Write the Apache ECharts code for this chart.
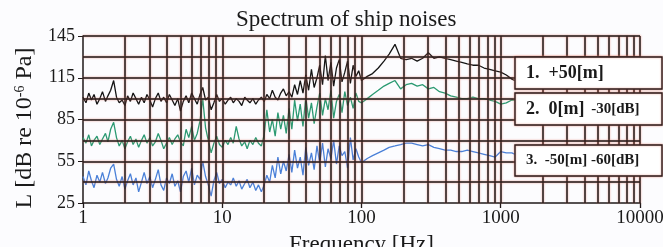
<!DOCTYPE html>
<html>
<head>
<meta charset="utf-8">
<script src="https://cdn.jsdelivr.net/npm/echarts@6/dist/echarts.min.js"></script>
<style>
  html, body { margin: 0; padding: 0; background: #fcfcfe; }
  #chart { width: 663px; height: 247px; }
</style>
</head>
<body>
<div id="chart"></div>
<script>
// frequency samples [Hz]
const freq = [
  1.00, 1.05, 1.10, 1.15, 1.20, 1.26, 1.32, 1.38, 1.45, 1.51, 1.58, 1.66, 1.74, 1.82, 1.91,
  2.00, 2.09, 2.19, 2.29, 2.40, 2.51, 2.63, 2.75, 2.88, 3.02, 3.16, 3.31, 3.47, 3.63, 3.80,
  3.98, 4.17, 4.37, 4.57, 4.79, 5.01, 5.25, 5.50, 5.75, 6.03, 6.31, 6.61, 6.92, 7.24, 7.59,
  7.94, 8.32, 8.71, 9.12, 9.55,
  10.0, 10.5, 11.0, 11.5, 12.0, 12.6, 13.2, 13.8, 14.5, 15.1, 15.8, 16.6, 17.4, 18.2, 19.1,
  20.0, 20.9, 21.9, 22.9, 24.0, 25.1, 26.3, 27.5, 28.8, 30.2, 31.6, 33.1, 34.7, 36.3, 38.0,
  39.8, 41.7, 43.7, 45.7, 47.9, 50.1, 52.5, 55.0, 57.5, 60.3, 63.1, 66.1, 69.2, 72.4, 75.9,
  79.4, 83.2, 87.1, 91.2, 95.5,
  100, 110, 120, 132, 145, 158, 174, 191, 209, 229, 251, 275, 302, 331, 363, 398, 437, 479,
  525, 575, 631, 692, 759, 832, 912, 1000, 1096, 1202, 1259
]

// 1. +50 m
const ship50 = [
  101, 97, 104, 99, 103, 96, 100, 105, 98, 102, 106, 113, 101, 97, 99,
  95, 102, 98, 104, 100, 96, 101, 97, 103, 99, 94, 100, 104, 98, 101,
  97, 103, 99, 95, 100, 91, 98, 102, 97, 104, 100, 96, 103, 108, 99,
  101, 92, 97, 103, 98,
  100, 96, 99, 101, 97, 100, 98, 95, 101, 99, 97, 100, 96, 99, 101,
  98, 103, 100, 106, 101, 99, 104, 107, 102, 105, 101, 110, 103, 113, 104,
  117, 106, 121, 108, 115, 124, 110, 131, 113, 126, 109, 122, 128, 112, 119,
  127, 111, 124, 116, 120,
  113, 116, 118, 122, 127, 132, 139, 129, 128, 129, 127, 129, 133, 129, 130, 129, 128, 127,
  126, 125, 124, 124, 122, 121, 120, 119, 117, 114, 113
]

// 2. 0 m, shifted -30 dB
const ship0 = [
  72, 68, 74, 66, 70, 73, 67, 71, 75, 69, 78, 83, 72, 66, 70,
  64, 69, 73, 67, 71, 65, 70, 74, 68, 72, 66, 69, 75, 70, 64,
  68, 72, 67, 71, 74, 69, 66, 78, 72, 80, 70, 75, 84, 100, 79,
  70, 61, 68, 73, 67,
  65, 70, 67, 72, 68, 80, 71, 66, 69, 64, 70, 67, 72, 68, 66,
  74, 92, 76, 85, 73, 90, 78, 88, 75, 93, 78, 99, 84, 96, 80,
  101, 86, 97, 82, 94, 104, 88, 100, 92, 106, 86, 98, 103, 90, 105,
  95, 101, 93, 104, 98,
  97, 100, 103, 106, 109, 111, 113, 107, 110, 111, 109, 110, 107, 108, 105, 104, 102, 101,
  100, 100, 101, 100, 100, 99, 98, 96, 97, 99, 99
]

// 3. -50 m, shifted -60 dB
const shipMinus50 = [
  44, 38, 48, 41, 36, 45, 40, 47, 39, 43, 50, 53, 42, 37, 44,
  35, 41, 46, 38, 43, 33, 40, 47, 39, 44, 36, 42, 49, 38, 34,
  43, 39, 46, 37, 41, 33, 44, 48, 40, 50, 38, 45, 42, 55, 44,
  38, 30, 41, 47, 39,
  42, 36, 40, 38, 43, 37, 41, 35, 39, 42, 36, 40, 34, 38, 33,
  38, 45, 40, 52, 43, 58, 46, 55, 48, 60, 47, 63, 50, 58, 45,
  65, 52, 61, 49, 66, 54, 68, 51, 64, 57, 70, 53, 66, 59, 62,
  50, 72, 56, 64, 58,
  54, 57, 59, 61, 63, 65, 66, 67, 68, 68, 67, 66, 67, 65, 64, 63, 63, 62,
  62, 63, 62, 61, 60, 59, 58, 62, 61, 61, 60
]

// grid lines
const gridFreqs = [
  2, 3, 4, 5, 6, 7, 8, 9, 10,
  20, 30, 40, 50, 60, 70, 80, 90, 100,
  200, 300, 400, 500, 600, 700, 800, 900, 1000,
  2000, 3000, 4000, 5000, 6000, 7000, 8000, 9000, 10000
]
const gridLevels = [40, 55, 70, 85, 100, 115, 130, 145]
const levelTicks = [25, 55, 85, 115, 145]

const legendRows = [
  '{b|1.  +50[m]}',
  '{b|2.  0[m]}  {s|-30[dB]}',
  '{s|3.  -50[m] -60[dB]}'
]

const serif = '"Liberation Serif", "DejaVu Serif", serif'
const pair = vals => freq.map((f, i) => [f, vals[i]])

const chart = echarts.init(document.getElementById('chart'))

const gridLine = {
  color: '#1f1818',
  width: 1.5,
  type: 'solid',
  shadowColor: 'rgba(225, 110, 90, 0.8)',
  shadowBlur: 2
}

const boxes = [[57, 32], [93, 32], [145, 31]]

const graphics = [
  // y axis title, placed a bit below the axis middle as in the original
  {
    type: 'text',
    x: 25,
    y: 128,
    rotation: Math.PI / 2,
    style: {
      text: '{n|L [dB re 10}{sup|-6}{n| Pa]}',
      align: 'center',
      verticalAlign: 'middle',
      rich: {
        n: { fontFamily: serif, fontSize: 24, fill: '#1a1a1a' },
        sup: { fontFamily: serif, fontSize: 14, fill: '#1a1a1a', verticalAlign: 'top', padding: [0, 0, 10, 0] }
      }
    }
  }
]
boxes.forEach((b, i) => {
  graphics.push({
    type: 'rect',
    z: 100,
    shape: { x: 515, y: b[0], width: 147, height: b[1] },
    style: { fill: '#ffffff', stroke: '#2a1c1c', lineWidth: 1.4, shadowColor: 'rgba(225,110,90,0.7)', shadowBlur: 2 }
  })
  graphics.push({
    type: 'text',
    z: 101,
    x: 526,
    y: b[0] + b[1] / 2,
    style: {
      text: legendRows[i],
      verticalAlign: 'middle',
      rich: {
        b: { fontFamily: serif, fontSize: 18, fontWeight: 'bold', fill: '#1a1a1a' },
        s: { fontFamily: serif, fontSize: 15, fontWeight: 'bold', fill: '#1a1a1a' }
      }
    }
  })
})

chart.setOption({
  backgroundColor: '#fcfcfe',
  animation: false,
  title: {
    text: 'Spectrum of ship noises',
    left: 231,
    top: 3,
    textStyle: { fontFamily: serif, fontSize: 23, fontWeight: 'normal', color: '#1a1a1a' }
  },
  grid: { left: 83, right: 23, top: 36, bottom: 44, outerBoundsMode: 'none', containLabel: false },
  xAxis: {
    type: 'log',
    logBase: 10,
    min: 1,
    max: 10000,
    name: 'Frequency [Hz]',
    nameLocation: 'middle',
    nameGap: 30,
    nameTextStyle: { fontFamily: serif, fontSize: 23, color: '#1a1a1a' },
    axisLine: { lineStyle: { color: '#1f1818', width: 1.5 } },
    axisTick: { show: true, length: 5, lineStyle: { color: '#1f1818', width: 1.3 } },
    axisLabel: { fontFamily: serif, fontSize: 19, color: '#1a1a1a', margin: 6, formatter: v => String(Math.round(v)) },
    splitLine: { show: false }
  },
  yAxis: {
    type: 'value',
    min: 25,
    max: 145,
    axisLine: { show: true, lineStyle: { color: '#1f1818', width: 1.5 } },
    axisTick: { show: true, length: 5, customValues: levelTicks, lineStyle: { color: '#1f1818' } },
    axisLabel: { fontFamily: serif, fontSize: 18, color: '#1a1a1a', margin: 8, customValues: levelTicks },
    splitLine: { show: false }
  },
  series: [
    {
      type: 'line',
      data: [],
      z: 1,
      silent: true,
      markLine: {
        silent: true,
        symbol: ['none', 'none'],
        label: { show: false },
        lineStyle: gridLine,
        data: gridFreqs.map(v => ({ xAxis: v })).concat(gridLevels.map(v => ({ yAxis: v })))
      }
    },
    {
      name: '+50[m]',
      type: 'line',
      data: pair(ship50),
      showSymbol: false,
      z: 3,
      lineStyle: { color: '#141414', width: 1.3 }
    },
    {
      name: '0[m]',
      type: 'line',
      data: pair(ship0),
      showSymbol: false,
      z: 3,
      lineStyle: { color: '#2b9a72', width: 1.3 }
    },
    {
      name: '-50[m]',
      type: 'line',
      data: pair(shipMinus50),
      showSymbol: false,
      z: 3,
      lineStyle: { color: '#4a80d8', width: 1.3 }
    }
  ],
  graphic: graphics
})
</script>
</body>
</html>
